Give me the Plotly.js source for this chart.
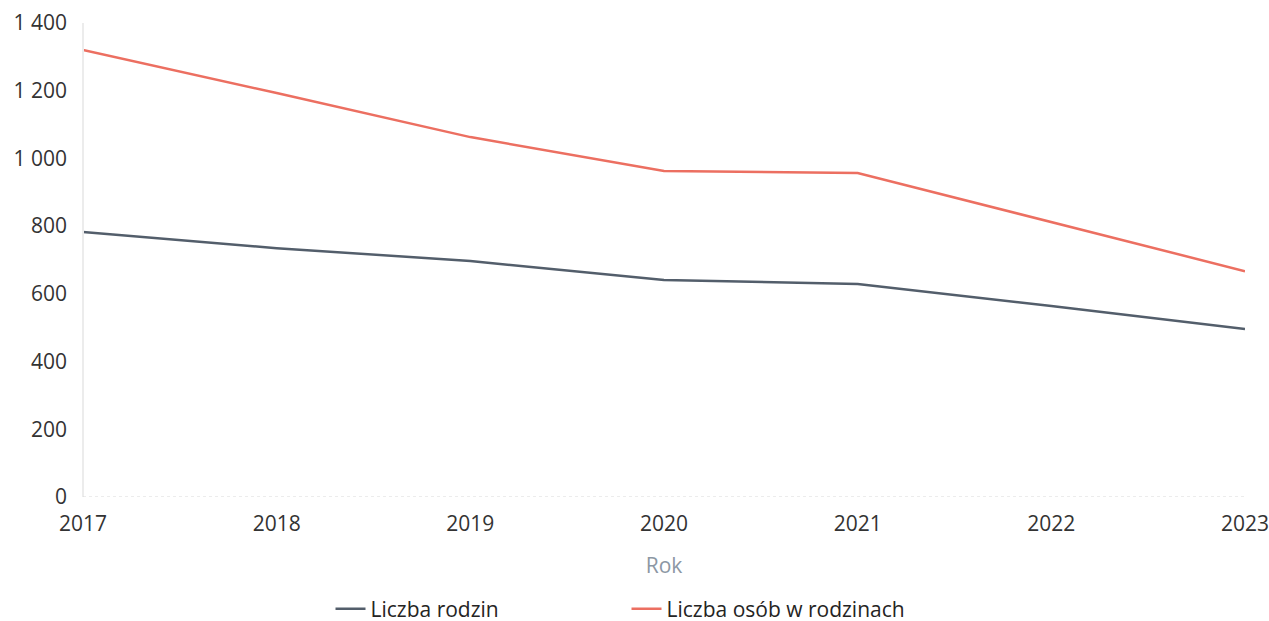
<!DOCTYPE html>
<html>
<head>
<meta charset="utf-8">
<script src="https://cdn.plot.ly/plotly-3.0.1.min.js"></script>
<style>
  html, body { margin: 0; padding: 0; background: #fff; }
  #chart { width: 1269px; height: 621px; }
</style>
</head>
<body>
<div id="chart"></div>
<script>
// Lata i wartości
let years = [2017, 2018, 2019, 2020, 2021, 2022, 2023];
let liczbaRodzin = [783, 735, 697, 641, 629, 564, 496];
let liczbaOsob = [1320, 1193, 1063, 963, 957, 812, 667];

let seriesNames = ['Liczba rodzin', 'Liczba osób w rodzinach'];
let seriesColors = ['#535e6b', '#ec6f61'];

let yTicks = [0, 200, 400, 600, 800, 1000, 1200, 1400];

let fontFamily = '"Open Sans", "Noto Sans", sans-serif';

function makeTrace(values, i) {
    return {
        x: years,
        y: values,
        name: seriesNames[i],
        type: 'scatter',
        mode: 'lines',
        line: { color: seriesColors[i], width: 2.5 },
        hoverinfo: 'none'
    };
}

let traces = [makeTrace(liczbaRodzin, 0), makeTrace(liczbaOsob, 1)];

let layout = {
    width: 1269,
    height: 621,
    autosize: false,
    margin: { l: 83, r: 24, t: 23, b: 124, pad: 0, autoexpand: false },
    paper_bgcolor: 'white',
    plot_bgcolor: 'white',
    font: { family: fontFamily, size: 21, color: '#333' },
    separators: ', ',
    showlegend: true,
    legend: {
        orientation: 'h',
        xref: 'paper',
        x: 0.213,
        xanchor: 'left',
        yref: 'container',
        y: 0.052,
        yanchor: 'top',
        entrywidth: 251,
        entrywidthmode: 'pixels',
        font: { size: 21, color: '#252423' }
    },
    xaxis: {
        range: [2017, 2023],
        tickvals: years,
        ticktext: years.map(String),
        showgrid: false,
        zeroline: false,
        showline: false,
        ticks: '',
        ticklabelstandoff: 12,
        ticklabeloverflow: 'allow',
        tickfont: { size: 21, color: '#333' },
        title: { text: 'Rok', font: { size: 21, color: '#8c97a4' }, standoff: 22 }
    },
    yaxis: {
        range: [0, 1400],
        tickvals: yTicks,
        separatethousands: true,
        showgrid: false,
        zeroline: false,
        showline: false,
        ticks: '',
        ticklabelstandoff: 15,
        ticklabeloverflow: 'allow',
        tickfont: { size: 21, color: '#333' }
    },
    shapes: [
        // Ledwo widoczna oś pionowa i kropkowana linia zera
        { type: 'line', xref: 'paper', yref: 'paper', x0: 0, x1: 0, y0: 0, y1: 1,
          line: { color: '#ececec', width: 2 } },
        { type: 'line', xref: 'paper', yref: 'y', x0: 0, x1: 1, y0: 0, y1: 0,
          line: { color: '#d8d8d8', width: 1, dash: 'dot' } }
    ]
};

Plotly.newPlot('chart', traces, layout, { displayModeBar: false, staticPlot: true });
</script>
</body>
</html>
